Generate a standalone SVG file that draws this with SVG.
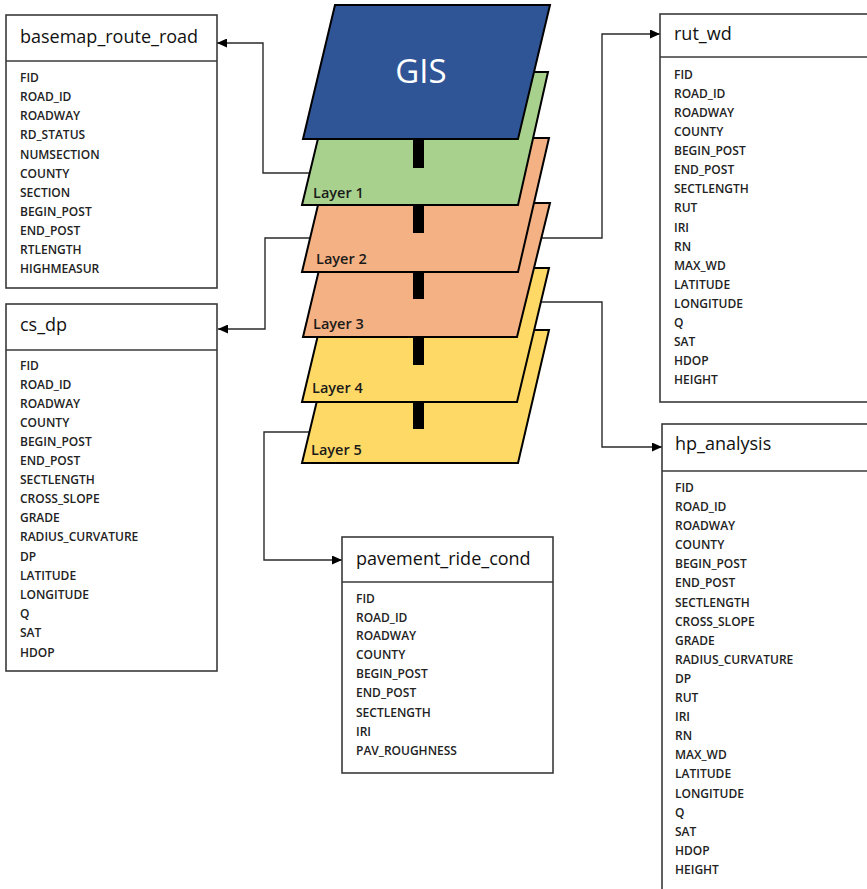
<svg xmlns="http://www.w3.org/2000/svg" width="867" height="889" viewBox="0 0 867 889">
  <style>
    .box { fill: #ffffff; stroke: #3a3a3a; stroke-width: 1.6; }
    .div { stroke: #3a3a3a; stroke-width: 1.4; }
    .title { font-family: "Open Sans", "Liberation Sans", sans-serif; font-size: 18px; fill: #111111; }
    .field { font-family: "Open Sans", "Liberation Sans", sans-serif; font-size: 12px; font-weight: 600; fill: #222222; }
    .conn { fill: none; stroke: #2a2a2a; stroke-width: 1.4; }
    .layer { stroke: #000000; stroke-width: 2; stroke-linejoin: miter; }
    .lbl { font-family: "Open Sans", "Liberation Sans", sans-serif; font-size: 14.5px; font-weight: 600; fill: #1a1a1a; }
    .bar { fill: #000000; }
  </style>
  <defs>
    <marker id="arrow" markerWidth="10" markerHeight="9" refX="10" refY="4.5" orient="auto" markerUnits="userSpaceOnUse">
      <path d="M0,0 L10,4.5 L0,9 z" fill="#000000"/>
    </marker>
  </defs>
  <rect width="867" height="889" fill="#ffffff"/>

  <!-- connectors from layers to attribute tables -->
  <g id="connectors">
    <path class="conn" d="M312,173 H263 V43 H217" marker-end="url(#arrow)"/>
    <path class="conn" d="M314,238 H265 V329 H218" marker-end="url(#arrow)"/>
    <path class="conn" d="M538,238 H602 V34 H660" marker-end="url(#arrow)"/>
    <path class="conn" d="M538,302 H602 V447 H662" marker-end="url(#arrow)"/>
    <path class="conn" d="M312,432 H264 V560 H342" marker-end="url(#arrow)"/>
  </g>

  <!-- layer stack, drawn bottom-up -->
  <g id="layer5">
    <polygon class="layer" fill="#FFD966" points="334,330 549,330 518,463 302,463"/>
    <text class="lbl" x="311" y="455">Layer 5</text>
  </g>
  <g id="layer4">
    <polygon class="layer" fill="#FFD966" points="334,268 549,268 517,402 302,402"/>
    <text class="lbl" x="312" y="393">Layer 4</text>
  </g>
  <g id="layer3">
    <polygon class="layer" fill="#F4B183" points="335,203 550,203 517,337 303,337"/>
    <text class="lbl" x="313" y="329">Layer 3</text>
  </g>
  <g id="layer2">
    <polygon class="layer" fill="#F4B183" points="334,138 549,138 518,272 302,272"/>
    <text class="lbl" x="316" y="264">Layer 2</text>
  </g>
  <g id="layer1">
    <polygon class="layer" fill="#A9D18E" points="334,72 548,72 518,205 302,205"/>
    <text class="lbl" x="313" y="198">Layer 1</text>
  </g>
  <g id="gis">
    <polygon class="layer" fill="#2F5597" points="335,5 550,5 518,139 303,139"/>
    <text x="421" y="83" text-anchor="middle" font-family="Open Sans, Liberation Sans, sans-serif" font-size="33" fill="#ffffff">GIS</text>
  </g>
  <g id="links">
    <rect class="bar" x="413" y="139" width="11" height="29"/>
    <rect class="bar" x="413" y="205" width="11" height="28"/>
    <rect class="bar" x="413" y="272" width="11" height="27"/>
    <rect class="bar" x="413" y="337" width="11" height="28"/>
    <rect class="bar" x="413" y="402" width="11" height="27"/>
  </g>

  <!-- attribute tables -->
  <g id="basemap_route_road">
    <rect class="box" x="6" y="15" width="211" height="273"/>
    <line class="div" x1="6" y1="61" x2="217" y2="61"/>
    <text class="title" x="20" y="43">basemap_route_road</text>
    <g class="field">
      <text x="20" y="82">FID</text>
      <text x="20" y="101">ROAD_ID</text>
      <text x="20" y="120">ROADWAY</text>
      <text x="20" y="139">RD_STATUS</text>
      <text x="20" y="159">NUMSECTION</text>
      <text x="20" y="178">COUNTY</text>
      <text x="20" y="197">SECTION</text>
      <text x="20" y="216">BEGIN_POST</text>
      <text x="20" y="235">END_POST</text>
      <text x="20" y="254">RTLENGTH</text>
      <text x="20" y="273">HIGHMEASUR</text>
    </g>
  </g>

  <g id="cs_dp">
    <rect class="box" x="6" y="304" width="211" height="367"/>
    <line class="div" x1="6" y1="350" x2="217" y2="350"/>
    <text class="title" x="20" y="331">cs_dp</text>
    <g class="field">
      <text x="20" y="370">FID</text>
      <text x="20" y="389">ROAD_ID</text>
      <text x="20" y="408">ROADWAY</text>
      <text x="20" y="427">COUNTY</text>
      <text x="20" y="446">BEGIN_POST</text>
      <text x="20" y="465">END_POST</text>
      <text x="20" y="484">SECTLENGTH</text>
      <text x="20" y="503">CROSS_SLOPE</text>
      <text x="20" y="522">GRADE</text>
      <text x="20" y="541">RADIUS_CURVATURE</text>
      <text x="20" y="561">DP</text>
      <text x="20" y="580">LATITUDE</text>
      <text x="20" y="599">LONGITUDE</text>
      <text x="20" y="618">Q</text>
      <text x="20" y="637">SAT</text>
      <text x="20" y="657">HDOP</text>
    </g>
  </g>

  <g id="rut_wd">
    <rect class="box" x="660" y="14" width="211" height="388"/>
    <line class="div" x1="660" y1="57" x2="871" y2="57"/>
    <text class="title" x="674" y="40">rut_wd</text>
    <g class="field">
      <text x="674" y="79">FID</text>
      <text x="674" y="98">ROAD_ID</text>
      <text x="674" y="117">ROADWAY</text>
      <text x="674" y="136">COUNTY</text>
      <text x="674" y="155">BEGIN_POST</text>
      <text x="674" y="174">END_POST</text>
      <text x="674" y="193">SECTLENGTH</text>
      <text x="674" y="212">RUT</text>
      <text x="674" y="232">IRI</text>
      <text x="674" y="251">RN</text>
      <text x="674" y="270">MAX_WD</text>
      <text x="674" y="289">LATITUDE</text>
      <text x="674" y="308">LONGITUDE</text>
      <text x="674" y="327">Q</text>
      <text x="674" y="346">SAT</text>
      <text x="674" y="365">HDOP</text>
      <text x="674" y="384">HEIGHT</text>
    </g>
  </g>

  <g id="hp_analysis">
    <rect class="box" x="662" y="424" width="211" height="480"/>
    <line class="div" x1="662" y1="471" x2="873" y2="471"/>
    <text class="title" x="675" y="450">hp_analysis</text>
    <g class="field">
      <text x="675" y="492">FID</text>
      <text x="675" y="511">ROAD_ID</text>
      <text x="675" y="530">ROADWAY</text>
      <text x="675" y="549">COUNTY</text>
      <text x="675" y="568">BEGIN_POST</text>
      <text x="675" y="587">END_POST</text>
      <text x="675" y="607">SECTLENGTH</text>
      <text x="675" y="626">CROSS_SLOPE</text>
      <text x="675" y="645">GRADE</text>
      <text x="675" y="664">RADIUS_CURVATURE</text>
      <text x="675" y="683">DP</text>
      <text x="675" y="702">RUT</text>
      <text x="675" y="721">IRI</text>
      <text x="675" y="740">RN</text>
      <text x="675" y="759">MAX_WD</text>
      <text x="675" y="778">LATITUDE</text>
      <text x="675" y="798">LONGITUDE</text>
      <text x="675" y="817">Q</text>
      <text x="675" y="836">SAT</text>
      <text x="675" y="855">HDOP</text>
      <text x="675" y="874">HEIGHT</text>
    </g>
  </g>

  <g id="pavement_ride_cond">
    <rect class="box" x="342" y="537" width="211" height="236"/>
    <line class="div" x1="342" y1="582" x2="553" y2="582"/>
    <text class="title" x="356" y="565">pavement_ride_cond</text>
    <g class="field">
      <text x="356" y="603">FID</text>
      <text x="356" y="622">ROAD_ID</text>
      <text x="356" y="640">ROADWAY</text>
      <text x="356" y="659">COUNTY</text>
      <text x="356" y="678">BEGIN_POST</text>
      <text x="356" y="697">END_POST</text>
      <text x="356" y="717">SECTLENGTH</text>
      <text x="356" y="736">IRI</text>
      <text x="356" y="755">PAV_ROUGHNESS</text>
    </g>
  </g>
</svg>
